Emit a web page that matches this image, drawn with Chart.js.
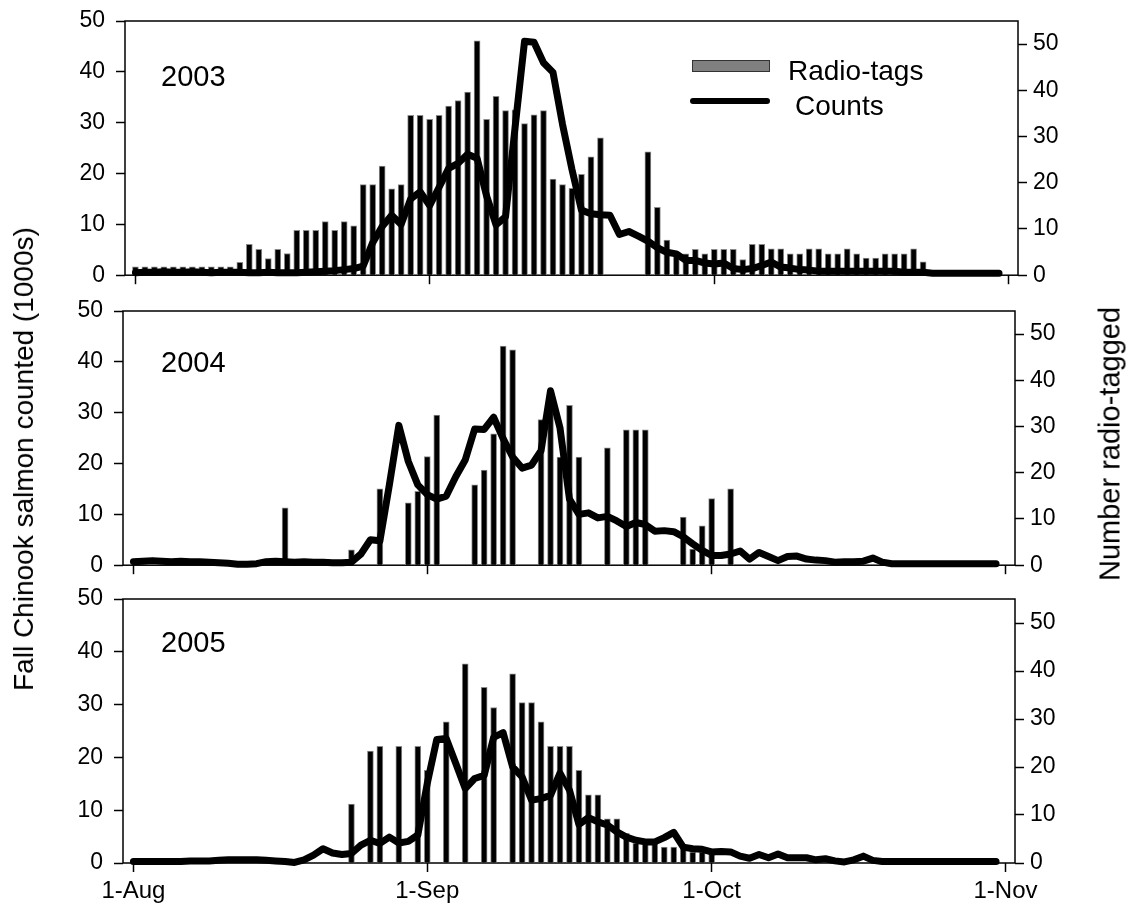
<!DOCTYPE html>
<html lang="en">
<head>
<meta charset="UTF-8">
<title>Fall Chinook salmon counts and radio-tags</title>
<script src="https://cdn.jsdelivr.net/npm/chart.js@4.4.0/dist/chart.umd.min.js"></script>
<style>
  body { margin: 0; background: #fff; }
  #page { position: relative; width: 1131px; height: 918px; overflow: hidden;
          font-family: "Liberation Sans", Arial, sans-serif; color: #000; }
  canvas { position: absolute; left: 0; }
  .year { position: absolute; left: 161px; font-size: 29px; line-height: 1; }
  .ttl { position: absolute; white-space: nowrap; line-height: 1;
         transform: translate(-50%, -50%) rotate(-90deg); }
  .leg { position: absolute; font-size: 28px; line-height: 1; }
</style>
</head>
<body>
<div id="page">
  <canvas id="c2003" width="1131" height="304" style="top:-4px"></canvas>
  <canvas id="c2004" width="1131" height="304" style="top:286px"></canvas>
  <canvas id="c2005" width="1131" height="344" style="top:574px"></canvas>

  <div class="year" style="top:62px">2003</div>
  <div class="year" style="top:348px">2004</div>
  <div class="year" style="top:628px">2005</div>

  <div style="position:absolute;left:692px;top:60px;width:76px;height:10px;background:#808080;border:1px solid #333"></div>
  <div class="leg" style="left:788px;top:57px">Radio-tags</div>
  <div style="position:absolute;left:690px;top:98px;width:80px;height:6px;background:#000;border-radius:3px"></div>
  <div class="leg" style="left:795px;top:92px">Counts</div>

  <div class="ttl" style="left:24px;top:459px;font-size:28px">Fall Chinook salmon counted (1000s)</div>
  <div class="ttl" style="left:1110px;top:444px;font-size:29px">Number radio-tagged</div>
</div>
<script>
// day 0 = 1-Aug ... day 92 = 1-Nov
const tickDays = [0, 31, 61, 92];
const tickLabels = ['1-Aug', '1-Sep', '1-Oct', '1-Nov'];
const leftTicks = [0, 10, 20, 30, 40, 50];
const rightTicks = [0, 10, 20, 30, 40, 50];

// daily counts (1000s), 1-Aug to 31-Oct
const counts2003 = [0.5,0.6,0.6,0.7,0.6,0.6,0.7,0.6,0.5,0.6,0.6,0.6,0.5,0.5,0.6,0.5,0.5,0.5,0.6,0.7,0.8,0.9,
  1.1,1.3,1.8,6.4,9.6,11.8,10.0,15.0,16.4,13.7,17.3,21.0,22.0,23.8,23.0,15.6,9.9,11.5,29.0,46.0,45.8,41.8,39.9,29.7,
  20.8,12.8,12.1,11.9,11.8,8.0,8.6,7.7,6.7,5.4,4.5,4.2,2.9,2.9,2.4,2.2,2.4,1.3,1.1,1.3,1.9,2.6,1.6,1.4,1.1,1.0,
  0.8,0.8,0.8,0.8,0.8,0.8,0.8,0.8,0.8,0.6,0.6,0.6,0.4,0.4,0.4,0.4,0.4,0.4,0.4,0.4];
const counts2004 = [0.7,0.8,0.9,0.8,0.7,0.8,0.7,0.7,0.6,0.5,0.4,0.2,0.2,0.3,0.7,0.8,0.7,0.6,0.7,0.6,0.6,0.5,0.5,
  0.6,2.2,5.0,4.8,15.8,27.5,20.4,15.8,13.9,13.0,13.6,17.4,20.7,26.8,26.7,29.1,24.9,21.3,19.1,19.7,22.5,34.3,27.0,
  13.0,10.0,10.3,9.3,9.6,8.7,7.6,8.4,8.0,6.7,6.8,6.6,5.6,4.2,2.9,1.9,1.9,2.2,2.8,1.2,2.5,1.7,0.9,1.7,1.8,1.2,
  1.0,0.9,0.6,0.7,0.7,0.8,1.4,0.6,0.3,0.3,0.3,0.3,0.3,0.3,0.3,0.3,0.3,0.3,0.3,0.3];
const counts2005 = [0.3,0.3,0.3,0.3,0.3,0.3,0.4,0.4,0.4,0.5,0.6,0.6,0.6,0.6,0.5,0.4,0.3,0.1,0.6,1.5,2.7,1.9,1.6,
  1.8,3.4,4.3,3.7,4.9,3.8,4.1,5.3,15.1,23.4,23.6,18.9,14.1,16.0,16.6,23.8,24.7,18.2,16.3,11.9,12.2,12.8,17.0,13.8,
  7.3,8.6,7.8,7.2,5.9,4.9,4.3,4.0,4.0,4.8,5.8,3.0,2.7,2.6,2.1,2.2,2.1,1.3,0.9,1.6,1.0,1.7,1.0,1.0,1.0,0.6,0.8,
  0.4,0.2,0.6,1.3,0.5,0.3,0.3,0.3,0.3,0.3,0.3,0.3,0.3,0.3,0.3,0.3,0.3,0.3];

// radio-tagged fish: day of season and number
const tagDays2003 = [0,1,2,3,4,5,6,7,8,9,10,11,12,13,14,15,16,17,18,19,20,21,22,23,24,25,26,27,28,29,30,31,32,33,
  34,35,36,37,38,39,40,41,42,43,44,45,46,47,48,49,54,55,56,57,58,59,60,61,62,63,64,65,66,67,68,69,70,71,72,73,
  74,75,76,77,78,79,80,81,82,83];
const tags2003 = [1.8,1.8,1.8,1.8,1.8,1.8,1.8,1.8,1.8,1.8,1.8,2.8,6.7,5.6,3.6,5.6,4.7,9.7,9.7,9.7,11.6,9.7,11.6,
  10.7,19.6,19.6,23.6,18.7,19.6,34.6,34.6,33.7,34.6,36.6,37.8,39.6,50.7,33.7,38.7,35.6,35.8,32.8,34.7,35.6,20.8,
  19.6,18.8,21.8,25.6,29.7,26.7,14.7,7.6,4.6,4.6,5.6,4.6,5.6,5.6,5.6,3.4,6.7,6.7,5.7,5.7,4.6,4.6,5.7,5.7,4.6,
  4.6,5.7,4.6,3.7,3.7,4.6,4.6,4.6,5.7,2.9];
const tagDays2004 = [16,23,26,29,30,31,32,36,37,38,39,40,43,44,45,46,47,50,52,53,54,58,59,60,61,63];
const tags2004 = [12.4,3.3,16.5,13.5,16.0,23.5,32.5,17.4,20.6,28.4,47.4,46.6,31.5,36.0,23.4,34.6,23.4,25.4,29.3,
  29.3,29.3,10.4,3.5,8.5,14.4,16.5];
const tagDays2005 = [23,25,26,28,30,31,33,35,37,38,40,41,42,43,44,45,46,47,48,49,50,51,52,53,54,55,56,57,58,59,60,61];
const tags2005 = [12.3,23.3,24.3,24.3,24.3,19.3,29.4,41.5,36.6,32.4,39.4,33.4,33.4,29.4,24.3,24.3,24.3,19.3,14.2,
  14.2,9.2,9.2,6.2,4.1,4.1,4.1,3.3,3.3,3.3,2.3,2.3,2.3];

Chart.defaults.font.family = '"Liberation Sans", Arial, sans-serif';
Chart.defaults.color = '#000';

const frame = {
  id: 'frame',
  beforeDatasetsDraw(chart) {
    const a = chart.chartArea, c = chart.ctx;
    c.save();
    c.strokeStyle = '#000';
    c.lineWidth = 1.5;
    c.strokeRect(a.left, a.top, a.right - a.left, a.bottom - a.top);
    c.restore();
  }
};

function tickGrid() {
  return { offset: false, drawOnChartArea: false, drawTicks: true, tickLength: 9, tickColor: '#000', tickWidth: 1.5 };
}

function panel(id, counts, tagDays, tags, left, right, xh, showLabels) {
  new Chart(document.getElementById(id), {
    type: 'bar',
    data: {
      datasets: [
        {
          type: 'line', label: 'Counts', yAxisID: 'y', order: 0,
          data: counts.map((v, i) => ({ x: i, y: v })),
          borderColor: '#000', borderWidth: 7, pointRadius: 0, tension: 0,
          borderJoinStyle: 'round', borderCapStyle: 'round', clip: false
        },
        {
          type: 'bar', label: 'Radio-tags', yAxisID: 'y2', order: 1,
          data: tagDays.map((d, i) => ({ x: d, y: tags[i] })),
          backgroundColor: '#000', borderColor: '#8a8a8a', borderWidth: 1, barThickness: 6
        }
      ]
    },
    options: {
      responsive: false, animation: false, devicePixelRatio: 1,
      layout: { padding: { top: 25 } },
      plugins: { legend: { display: false }, tooltip: { enabled: false } },
      scales: {
        x: {
          type: 'linear', min: -1.1, max: 93, offset: false,
          grid: tickGrid(), border: { display: false },
          ticks: {
            display: showLabels, font: { size: 24 }, padding: 5, maxRotation: 0,
            callback: v => tickLabels[tickDays.indexOf(v)]
          },
          afterBuildTicks: s => { s.ticks = tickDays.map(v => ({ value: v })); },
          afterFit: s => { s.height = xh; }
        },
        y: {
          position: 'left', min: 0, max: 50,
          grid: tickGrid(), border: { display: false },
          ticks: { font: { size: 23 }, padding: 11 },
          afterBuildTicks: s => { s.ticks = leftTicks.map(v => ({ value: v })); },
          afterFit: s => { s.width = left; }
        },
        y2: {
          position: 'right', min: 0, max: 55,
          grid: tickGrid(), border: { display: false },
          ticks: { font: { size: 23 }, padding: 6 },
          afterBuildTicks: s => { s.ticks = rightTicks.map(v => ({ value: v })); },
          afterFit: s => { s.width = 1131 - right; }
        }
      }
    },
    plugins: [frame]
  });
}

panel('c2003', counts2003, tagDays2003, tags2003, 125, 1018, 18, false);
panel('c2004', counts2004, tagDays2004, tags2004, 123, 1015, 22, false);
panel('c2005', counts2005, tagDays2005, tags2005, 123, 1015, 55, true);
</script>
</body>
</html>
